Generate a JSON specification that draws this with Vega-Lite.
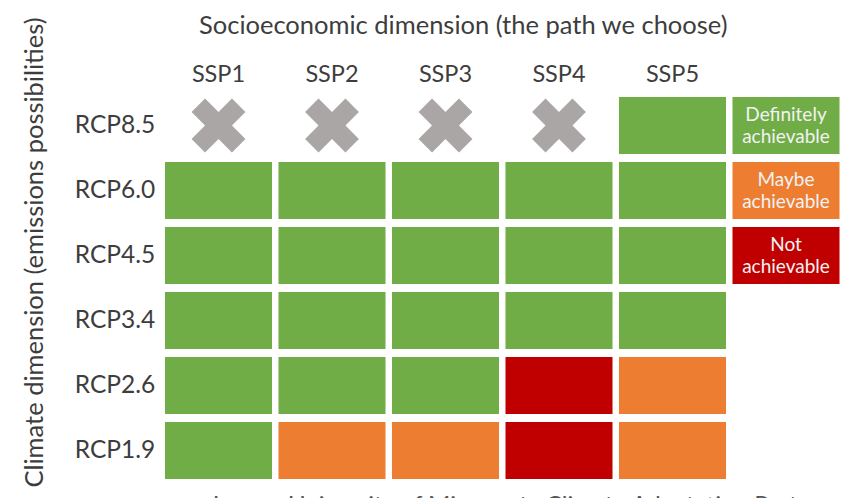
{
  "$schema": "https://vega.github.io/schema/vega-lite/v6.json",
  "autosize": {"type": "none"},
  "width": 681,
  "height": 390,
  "padding": {"left": 161.75, "top": 93, "right": 0.25, "bottom": 15},
  "background": "white",
  "config": {
    "font": "Lato",
    "view": {"stroke": null},
    "title": {"font": "Lato"}
  },
  "title": {
    "text": "Image: University of Minnesota Climate Adaptation Partnership, 2019",
    "orient": "bottom",
    "anchor": "start",
    "dx": 190,
    "offset": 7,
    "baseline": "top",
    "fontSize": 24,
    "fontWeight": "normal",
    "color": "#555555"
  },
  "datasets": {
    "cells": [
      {"ssp": "SSP1", "rcp": "RCP8.5", "status": "Impossible"},
      {"ssp": "SSP2", "rcp": "RCP8.5", "status": "Impossible"},
      {"ssp": "SSP3", "rcp": "RCP8.5", "status": "Impossible"},
      {"ssp": "SSP4", "rcp": "RCP8.5", "status": "Impossible"},
      {"ssp": "SSP5", "rcp": "RCP8.5", "status": "Definitely achievable"},
      {"ssp": "SSP1", "rcp": "RCP6.0", "status": "Definitely achievable"},
      {"ssp": "SSP2", "rcp": "RCP6.0", "status": "Definitely achievable"},
      {"ssp": "SSP3", "rcp": "RCP6.0", "status": "Definitely achievable"},
      {"ssp": "SSP4", "rcp": "RCP6.0", "status": "Definitely achievable"},
      {"ssp": "SSP5", "rcp": "RCP6.0", "status": "Definitely achievable"},
      {"ssp": "SSP1", "rcp": "RCP4.5", "status": "Definitely achievable"},
      {"ssp": "SSP2", "rcp": "RCP4.5", "status": "Definitely achievable"},
      {"ssp": "SSP3", "rcp": "RCP4.5", "status": "Definitely achievable"},
      {"ssp": "SSP4", "rcp": "RCP4.5", "status": "Definitely achievable"},
      {"ssp": "SSP5", "rcp": "RCP4.5", "status": "Definitely achievable"},
      {"ssp": "SSP1", "rcp": "RCP3.4", "status": "Definitely achievable"},
      {"ssp": "SSP2", "rcp": "RCP3.4", "status": "Definitely achievable"},
      {"ssp": "SSP3", "rcp": "RCP3.4", "status": "Definitely achievable"},
      {"ssp": "SSP4", "rcp": "RCP3.4", "status": "Definitely achievable"},
      {"ssp": "SSP5", "rcp": "RCP3.4", "status": "Definitely achievable"},
      {"ssp": "SSP1", "rcp": "RCP2.6", "status": "Definitely achievable"},
      {"ssp": "SSP2", "rcp": "RCP2.6", "status": "Definitely achievable"},
      {"ssp": "SSP3", "rcp": "RCP2.6", "status": "Definitely achievable"},
      {"ssp": "SSP4", "rcp": "RCP2.6", "status": "Not achievable"},
      {"ssp": "SSP5", "rcp": "RCP2.6", "status": "Maybe achievable"},
      {"ssp": "SSP1", "rcp": "RCP1.9", "status": "Definitely achievable"},
      {"ssp": "SSP2", "rcp": "RCP1.9", "status": "Maybe achievable"},
      {"ssp": "SSP3", "rcp": "RCP1.9", "status": "Maybe achievable"},
      {"ssp": "SSP4", "rcp": "RCP1.9", "status": "Not achievable"},
      {"ssp": "SSP5", "rcp": "RCP1.9", "status": "Maybe achievable"}
    ],
    "legend": [
      {"ssp": "L", "rcp": "RCP8.5", "status": "Definitely achievable", "label": "Definitely\nachievable"},
      {"ssp": "L", "rcp": "RCP6.0", "status": "Maybe achievable", "label": "Maybe\nachievable"},
      {"ssp": "L", "rcp": "RCP4.5", "status": "Not achievable", "label": "Not\nachievable"}
    ]
  },
  "encoding": {
    "x": {
      "field": "ssp",
      "type": "nominal",
      "scale": {"domain": ["SSP1", "SSP2", "SSP3", "SSP4", "SSP5", "L"], "paddingInner": 0.057, "paddingOuter": 0.0285},
      "axis": {
        "orient": "top",
        "title": "Socioeconomic dimension (the path we choose)",
        "labelExpr": "datum.value == 'L' ? '' : datum.value",
        "labelAngle": 0,
        "labelFontSize": 23.5,
        "labelColor": "#3d3d3d",
        "labelPadding": 7,
        "domain": false,
        "ticks": false,
        "titleFontSize": 25.5,
        "titleFontWeight": "normal",
        "titleColor": "#3d3d3d",
        "titleX": 301,
        "titleY": -68,
        "titleAlign": "center",
        "titleBaseline": "middle"
      }
    },
    "y": {
      "field": "rcp",
      "type": "nominal",
      "scale": {"domain": ["RCP8.5", "RCP6.0", "RCP4.5", "RCP3.4", "RCP2.6", "RCP1.9"], "paddingInner": 0.123, "paddingOuter": 0.0615},
      "axis": {
        "title": "Climate dimension (emissions possibilities)",
        "labelFontSize": 24.5,
        "labelColor": "#3d3d3d",
        "labelPadding": 7,
        "domain": false,
        "ticks": false,
        "titleFontSize": 25.5,
        "titleFontWeight": "normal",
        "titleColor": "#3d3d3d",
        "titleAngle": -90,
        "titleX": -127,
        "titleY": 159,
        "titleAlign": "center",
        "titleBaseline": "middle"
      }
    }
  },
  "layer": [
    {
      "data": {"name": "cells"},
      "transform": [{"filter": "datum.status != 'Impossible'"}],
      "mark": {"type": "rect"},
      "encoding": {
        "color": {
          "field": "status",
          "type": "nominal",
          "scale": {"domain": ["Definitely achievable", "Maybe achievable", "Not achievable"], "range": ["#70ad47", "#ed7d31", "#c00000"]},
          "legend": null
        }
      }
    },
    {
      "data": {"name": "cells"},
      "transform": [{"filter": "datum.status == 'Impossible'"}],
      "mark": {
        "type": "point",
        "filled": true,
        "opacity": 1,
        "color": "#aaa6a6",
        "size": 2900,
        "shape": "M-1,-0.5L-0.5,-1L0,-0.5L0.5,-1L1,-0.5L0.5,0L1,0.5L0.5,1L0,0.5L-0.5,1L-1,0.5L-0.5,0Z"
      }
    },
    {
      "data": {"name": "legend"},
      "mark": {"type": "rect"},
      "encoding": {
        "color": {"field": "status", "type": "nominal", "legend": null}
      }
    },
    {
      "data": {"name": "legend"},
      "mark": {"type": "text", "lineBreak": "\n", "fontSize": 19, "lineHeight": 22, "color": "#f2f2f2", "baseline": "middle", "align": "center", "dy": -11},
      "encoding": {"text": {"field": "label"}}
    }
  ]
}
